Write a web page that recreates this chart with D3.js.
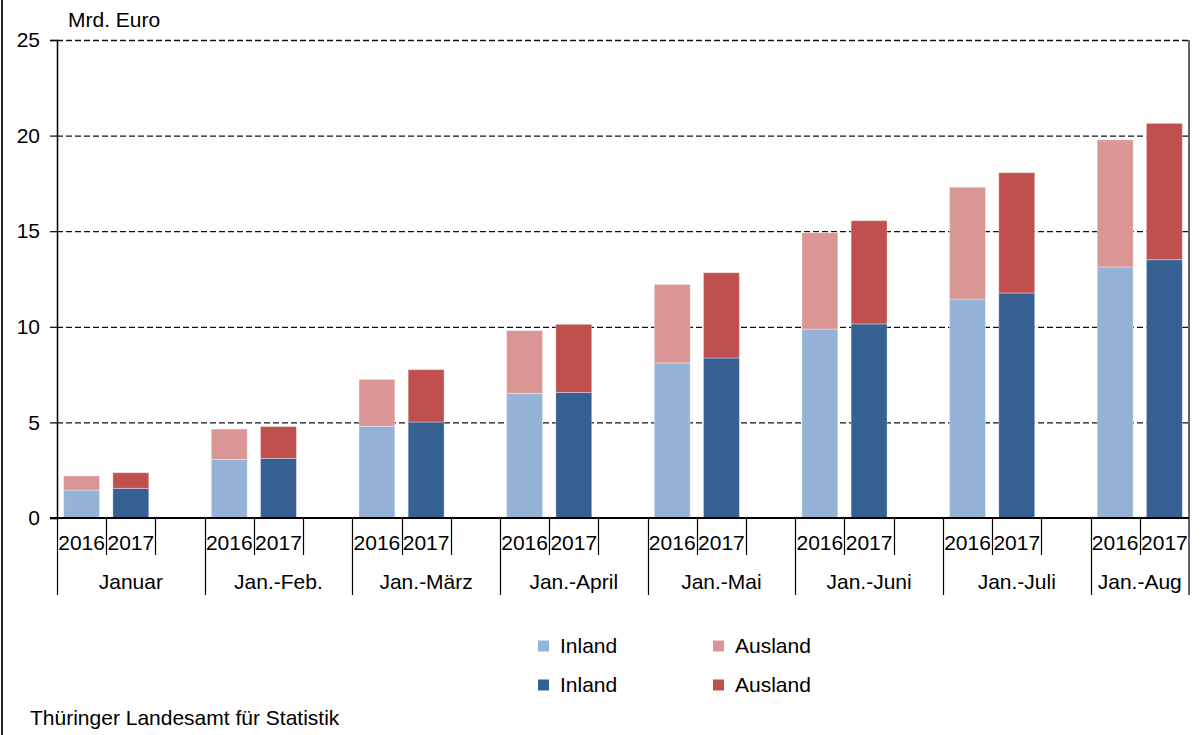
<!DOCTYPE html>
<html><head><meta charset="utf-8">
<script src="https://cdn.jsdelivr.net/npm/d3@7"></script>
<style>
body{margin:0;background:#fff;}
svg{display:block;font-family:"Liberation Sans",Arial,sans-serif;}
</style></head>
<body>
<svg id="c" width="1203" height="735"></svg>
<script>
const groups = ["Januar","Jan.-Feb.","Jan.-März","Jan.-April","Jan.-Mai","Jan.-Juni","Jan.-Juli","Jan.-Aug"];
const years = ["2016","2017"];
const inland2016  = [1.46,3.07,4.80,6.52,8.11,9.88,11.45,13.13];
const ausland2016 = [0.74,1.58,2.45,3.28,4.11,5.04,5.85,6.65];
const inland2017  = [1.55,3.12,5.02,6.57,8.37,10.15,11.77,13.51];
const ausland2017 = [0.82,1.66,2.74,3.56,4.46,5.40,6.29,7.13];
const yTicks = [0,5,10,15,20,25];
const legendItems = [
  {label:"Inland", color:"#95B3D7"},
  {label:"Ausland", color:"#D99694"},
  {label:"Inland", color:"#376092"},
  {label:"Ausland", color:"#C0504D"}
];
const colors = {in16:"#95B3D7", aus16:"#D99694", in17:"#376092", aus17:"#C0504D"};

const svg = d3.select("#c");
const L = 57, R = 1189, T = 40, B = 518;
const FS = 21;

const slots = [];
groups.forEach((g,i)=>{
  slots.push(i+"-2016"); slots.push(i+"-2017");
  if(i<groups.length-1) slots.push(i+"-gap");
});
const x = d3.scaleBand().domain(slots).range([L,R]).paddingInner(0).paddingOuter(0);
const y = d3.scaleLinear().domain([0,25]).range([B,T]);
const bw = x.bandwidth()*0.73;

svg.append("line").attr("x1",2).attr("x2",2).attr("y1",0).attr("y2",735)
  .attr("stroke","#222").attr("stroke-width",2);

svg.append("g").selectAll("line").data(yTicks.filter(d=>d>0)).join("line")
  .attr("x1",L).attr("x2",R).attr("y1",d=>y(d)+0.5).attr("y2",d=>y(d)+0.5)
  .attr("stroke","#111").attr("stroke-width",1.3).attr("stroke-dasharray","6,3");

const ya = svg.append("g").attr("transform",`translate(${L},0)`)
  .call(d3.axisLeft(y).tickValues(yTicks).tickSize(7).tickPadding(10));
ya.select(".domain").attr("stroke","#000").attr("stroke-width",1.5);
ya.selectAll(".tick line").attr("stroke","#000").attr("stroke-width",1.2);
ya.selectAll(".tick text").attr("font-size",FS).attr("fill","#000")
  .attr("font-family","Liberation Sans, Arial, sans-serif");

function stack(yearKey, inl, aus, cIn, cAus){
  const g = svg.append("g");
  groups.forEach((name,i)=>{
    const cx = x(i+"-"+yearKey) + x.bandwidth()/2;
    g.append("rect").attr("x",cx-bw/2).attr("width",bw)
      .attr("y",y(inl[i])).attr("height",y(0)-y(inl[i]))
      .attr("fill",cIn).attr("stroke","rgba(255,255,255,0.35)").attr("stroke-width",1);
    g.append("rect").attr("x",cx-bw/2).attr("width",bw)
      .attr("y",y(inl[i]+aus[i])).attr("height",y(inl[i])-y(inl[i]+aus[i]))
      .attr("fill",cAus).attr("stroke","rgba(255,255,255,0.35)").attr("stroke-width",1);
  });
}
stack("2016", inland2016, ausland2016, colors.in16, colors.aus16);
stack("2017", inland2017, ausland2017, colors.in17, colors.aus17);

svg.append("line").attr("x1",R).attr("x2",R).attr("y1",T).attr("y2",595)
  .attr("stroke","#666").attr("stroke-width",2);

svg.append("line").attr("x1",L-7).attr("x2",R).attr("y1",B).attr("y2",B)
  .attr("stroke","#000").attr("stroke-width",2);

const tg = svg.append("g").attr("stroke","#000").attr("stroke-width",1.2);
slots.forEach((s,k)=>{
  const xs = Math.round(x(s))+0.5;
  const isGroupStart = s.endsWith("-2016");
  tg.append("line").attr("x1",xs).attr("x2",xs).attr("y1",B).attr("y2",isGroupStart?595:555);
});

const lg = svg.append("g").attr("font-size",FS).attr("fill","#000").attr("text-anchor","middle");
groups.forEach((g,i)=>{
  years.forEach(yr=>{
    lg.append("text").attr("x",x(i+"-"+yr)+x.bandwidth()/2).attr("y",543)
      .attr("dy","0.35em").text(yr);
  });
  const start = x(i+"-2016");
  const end = i<groups.length-1 ? x((i+1)+"-2016") : R;
  lg.append("text").attr("x",(start+end)/2).attr("y",582).attr("dy","0.35em").text(g);
});

svg.append("text").attr("x",68).attr("y",20).attr("dy","0.35em")
  .attr("font-size",FS).attr("fill","#000").text("Mrd. Euro");

const legPos = [[538,646],[713,646],[538,685],[713,685]];
legendItems.forEach((d,i)=>{
  const [lx,ly] = legPos[i];
  svg.append("rect").attr("x",lx).attr("y",ly-5.5).attr("width",11).attr("height",11).attr("fill",d.color);
  svg.append("text").attr("x",lx+22).attr("y",ly).attr("dy","0.35em")
    .attr("font-size",FS).attr("fill","#000").text(d.label);
});

svg.append("text").attr("x",30).attr("y",718).attr("dy","0.35em")
  .attr("font-size",FS).attr("fill","#000").text("Thüringer Landesamt für Statistik");
</script>
</body></html>
